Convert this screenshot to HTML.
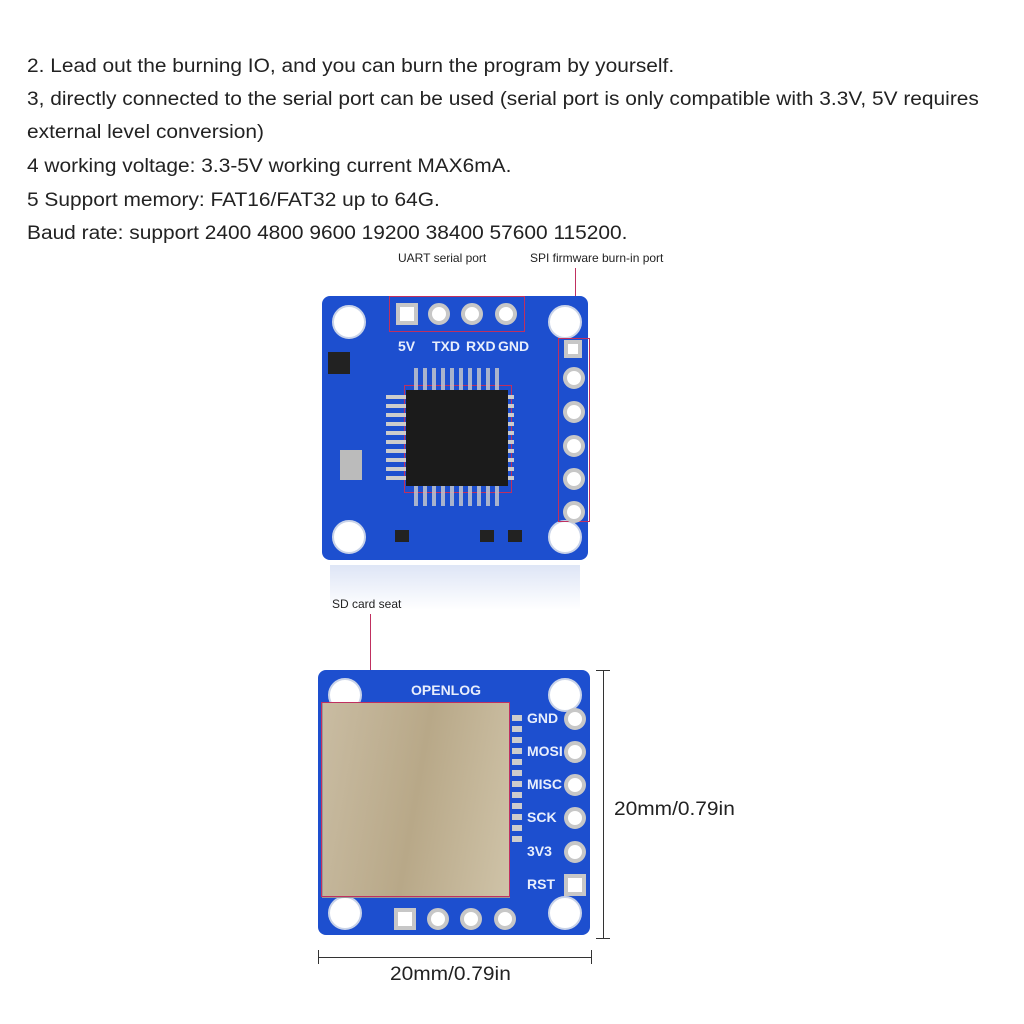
<!DOCTYPE html>
<html><head><meta charset="utf-8"><style>
body{margin:0;width:1024px;height:1024px;background:#fff;position:relative;overflow:hidden;font-family:"Liberation Sans",sans-serif}
.t{position:absolute;left:27px;font-size:19px;color:#222;white-space:nowrap;transform:scaleX(1.1);transform-origin:0 0}
.a{position:absolute}
.hole{position:absolute;width:30px;height:30px;border-radius:50%;background:#fff;border:2px solid #c9d3e8}
.pad{position:absolute;width:14px;height:14px;border-radius:50%;background:#fff;border:4px solid #c7c7c7}
.sq{position:absolute;width:14px;height:14px;background:#fff;border:4px solid #c7c7c7}
.lbl{position:absolute;color:#e8eefc;font-size:14px;font-weight:bold}
.sm{position:absolute;font-size:12px;color:#222}
.dim{position:absolute;font-size:19px;color:#222;transform:scaleX(1.1);transform-origin:0 0;white-space:nowrap}
</style></head><body>
<div class="t" style="top:56px">2. Lead out the burning IO, and you can burn the program by yourself.</div>
<div class="t" style="top:89px">3, directly connected to the serial port can be used (serial port is only compatible with 3.3V, 5V requires</div>
<div class="t" style="top:122px">external level conversion)</div>
<div class="t" style="top:156px">4 working voltage: 3.3-5V working current MAX6mA.</div>
<div class="t" style="top:190px">5 Support memory: FAT16/FAT32 up to 64G.</div>
<div class="t" style="top:223px">Baud rate: support 2400 4800 9600 19200 38400 57600 115200.</div>
<div class="sm" style="left:398px;top:251px">UART serial port</div>
<div class="sm" style="left:530px;top:251px">SPI firmware burn-in port</div>
<div class="a" style="left:575px;top:268px;width:1px;height:70px;background:#c03060"></div>

<!-- top board -->
<div class="a" style="left:322px;top:296px;width:266px;height:264px;background:#1d4fcf;border-radius:8px"></div>
<div class="a" style="left:330px;top:565px;width:250px;height:45px;background:linear-gradient(#c8d4f0,#fff);opacity:.6"></div>
<div class="hole" style="left:332px;top:305px"></div>
<div class="hole" style="left:548px;top:305px"></div>
<div class="hole" style="left:332px;top:520px"></div>
<div class="hole" style="left:548px;top:520px"></div>
<div class="a" style="left:389px;top:296px;width:134px;height:34px;border:1.5px solid #c03060"></div>
<div class="sq" style="left:396px;top:303px"></div>
<div class="pad" style="left:428px;top:303px"></div>
<div class="pad" style="left:461px;top:303px"></div>
<div class="pad" style="left:495px;top:303px"></div>
<div class="lbl" style="left:398px;top:338px">5V</div><div class="lbl" style="left:432px;top:338px">TXD</div><div class="lbl" style="left:466px;top:338px">RXD</div><div class="lbl" style="left:498px;top:338px">GND</div>
<div class="a" style="left:558px;top:338px;width:30px;height:182px;border:1.5px solid #c03060"></div>
<div class="sq" style="left:564px;top:340px;width:10px;height:10px"></div>
<div class="pad" style="left:563px;top:367px"></div><div class="pad" style="left:563px;top:401px"></div><div class="pad" style="left:563px;top:435px"></div><div class="pad" style="left:563px;top:468px"></div><div class="pad" style="left:563px;top:501px"></div>
<div class="a" style="left:404px;top:385px;width:106px;height:106px;border:1.5px solid #c03060"></div>
<div class="a" style="left:414px;top:368px;width:86px;height:138px;background:repeating-linear-gradient(90deg,#ccc 0 4px,transparent 4px 9px);opacity:.8"></div>
<div class="a" style="left:386px;top:395px;width:128px;height:86px;background:repeating-linear-gradient(#ccc 0 4px,transparent 4px 9px)"></div>
<div class="a" style="left:406px;top:390px;width:102px;height:96px;background:#1b1b1b"></div>
<div class="a" style="left:340px;top:450px;width:22px;height:30px;background:#bbb"></div>
<div class="a" style="left:328px;top:352px;width:22px;height:22px;background:#222"></div>
<div class="a" style="left:395px;top:530px;width:14px;height:12px;background:#222"></div>
<div class="a" style="left:480px;top:530px;width:14px;height:12px;background:#222"></div>
<div class="a" style="left:508px;top:530px;width:14px;height:12px;background:#222"></div>

<!-- bottom board -->
<div class="sm" style="left:332px;top:597px">SD card seat</div>
<div class="a" style="left:370px;top:614px;width:1px;height:90px;background:#c03060"></div>
<div class="a" style="left:318px;top:670px;width:272px;height:265px;background:#1d4fcf;border-radius:8px"></div>
<div class="hole" style="left:328px;top:678px"></div>
<div class="hole" style="left:548px;top:678px"></div>
<div class="hole" style="left:328px;top:896px"></div>
<div class="hole" style="left:548px;top:896px"></div>
<div class="a" style="left:322px;top:702px;width:186px;height:194px;background:linear-gradient(100deg,#c9bca2,#b8a888 50%,#cfc3a8);border:1px solid #999"></div>
<div class="a" style="left:321px;top:702px;width:187px;height:193px;border:1.5px solid #c03060"></div>
<div class="a" style="left:512px;top:715px;width:10px;height:130px;background:repeating-linear-gradient(#ccc 0 6px,#1d4fcf 6px 11px)"></div>
<div class="lbl" style="left:411px;top:682px">OPENLOG</div>
<div class="lbl" style="left:527px;top:710px">GND</div><div class="lbl" style="left:527px;top:743px">MOSI</div><div class="lbl" style="left:527px;top:776px">MISC</div><div class="lbl" style="left:527px;top:809px">SCK</div><div class="lbl" style="left:527px;top:843px">3V3</div><div class="lbl" style="left:527px;top:876px">RST</div>
<div class="pad" style="left:564px;top:708px"></div><div class="pad" style="left:564px;top:741px"></div><div class="pad" style="left:564px;top:774px"></div><div class="pad" style="left:564px;top:807px"></div><div class="pad" style="left:564px;top:841px"></div><div class="sq" style="left:564px;top:874px"></div>
<div class="sq" style="left:394px;top:908px"></div><div class="pad" style="left:427px;top:908px"></div><div class="pad" style="left:460px;top:908px"></div><div class="pad" style="left:494px;top:908px"></div>
<!-- dimensions -->
<div class="a" style="left:603px;top:670px;width:1px;height:268px;background:#333"></div>
<div class="a" style="left:596px;top:670px;width:14px;height:1px;background:#333"></div>
<div class="a" style="left:596px;top:938px;width:14px;height:1px;background:#333"></div>
<div class="dim" style="left:614px;top:799px">20mm/0.79in</div>
<div class="a" style="left:318px;top:957px;width:273px;height:1px;background:#333"></div>
<div class="a" style="left:318px;top:950px;width:1px;height:14px;background:#333"></div>
<div class="a" style="left:591px;top:950px;width:1px;height:14px;background:#333"></div>
<div class="dim" style="left:390px;top:964px">20mm/0.79in</div>
</body></html>
